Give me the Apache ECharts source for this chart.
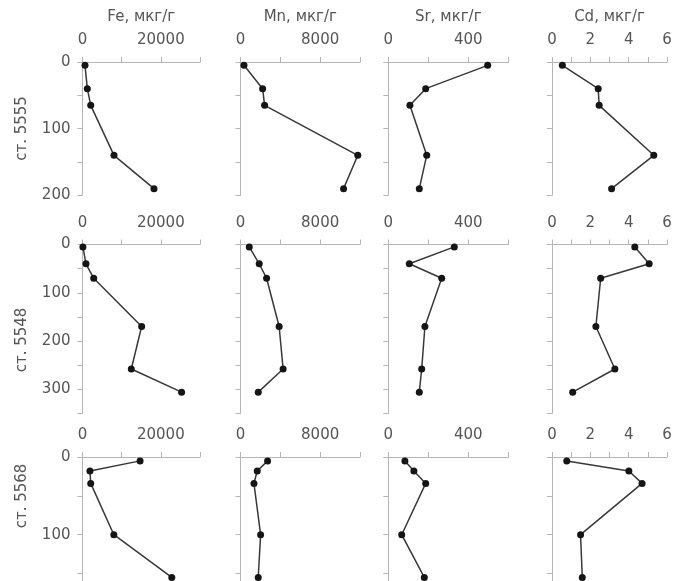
<!DOCTYPE html>
<html><head><meta charset="utf-8">
<script src="https://cdn.jsdelivr.net/npm/echarts@6/dist/echarts.min.js"></script>
<style>html,body{margin:0;padding:0;background:#fff}#c{width:675px;height:581px}</style>
</head><body><div id="c"></div>
<script>
// ---- data ----
const stations = ['ст. 5555', 'ст. 5548', 'ст. 5568'];
const elements = ['Fe, мкг/г', 'Mn, мкг/г', 'Sr, мкг/г', 'Cd, мкг/г'];
const xMax = [30000, 12000, 600, 6];
const xInterval = [10000, 4000, 200, 1];
const depthMax = [200, 350, 200];
const depthInterval = 50;

const depth5555 = [5, 40, 65, 140, 190];
const fe5555 = [640, 1230, 2100, 8040, 18250];
const mn5555 = [350, 2220, 2420, 11780, 10350];
const sr5555 = [497, 187, 108, 192, 155];
const cd5555 = [0.54, 2.41, 2.46, 5.31, 3.11];

const depth5548 = [5, 40, 70, 170, 258, 306];
const fe5548 = [100, 890, 2860, 15100, 12460, 25300];
const mn5548 = [880, 1880, 2620, 3880, 4280, 1780];
const sr5548 = [330, 105, 267, 183, 167, 155];
const cd5548 = [4.32, 5.07, 2.54, 2.29, 3.28, 1.08];

const depth5568 = [5, 18, 34, 100, 155];
const fe5568 = [14700, 1900, 2100, 8000, 22800];
const mn5568 = [2720, 1680, 1350, 2020, 1780];
const sr5568 = [83, 128, 187, 67, 180];
const cd5568 = [0.77, 4.01, 4.70, 1.49, 1.58];

const depths = [depth5555, depth5548, depth5568];
const values = [
  [fe5555, mn5555, sr5555, cd5555],
  [fe5548, mn5548, sr5548, cd5548],
  [fe5568, mn5568, sr5568, cd5568]
];

// ---- layout ----
const colLeft = [82.5, 240.5, 388.3, 552];
const colWidth = [117.5, 119.5, 120, 115];
const rowTop = [62, 244.5, 457];
const rowPx = [0.6665, 0.4825, 0.777];
const stationY = [128.5, 340, 496];

const FONT = 'DejaVu Sans';
const TXT = '#555';
const AX = '#b5b5b5';

const grid = [], xAxis = [], yAxis = [], series = [];
for (let r = 0; r < 3; r++) {
  for (let c = 0; c < 4; c++) {
    const i = r * 4 + c;
    grid.push({left: colLeft[c], top: rowTop[r], width: colWidth[c], height: depthMax[r] * rowPx[r],
      containLabel: false, outerBoundsMode: 'none'});
    const xi = xInterval[c];
    xAxis.push({
      type: 'value', gridIndex: i, position: 'top', min: 0, max: xMax[c], interval: xi,
      name: r === 0 ? elements[c] : '', nameLocation: 'middle', nameGap: 37,
      nameTextStyle: {fontFamily: FONT, fontSize: 15, color: TXT},
      axisLine: {show: true, lineStyle: {color: AX, width: 1}},
      axisTick: {show: true, inside: false, length: 5, lineStyle: {color: AX}},
      splitLine: {show: false},
      axisLabel: {
        margin: 14, fontFamily: FONT, fontSize: 15, color: TXT,
        formatter: v => (Math.round(v / xi) % 2 === 0 ? String(v) : '')
      }
    });
    yAxis.push({
      type: 'value', gridIndex: i, inverse: true, min: 0, max: depthMax[r], interval: depthInterval,
      axisLine: {show: true, lineStyle: {color: AX, width: 1}},
      axisTick: {show: true, inside: false, length: 5, lineStyle: {color: AX}},
      splitLine: {show: false},
      axisLabel: {
        show: c === 0, margin: 12, fontFamily: FONT, fontSize: 15, color: TXT,
        formatter: v => (v % 100 === 0 ? String(v) : '')
      }
    });
    const vals = values[r][c];
    series.push({
      type: 'line', xAxisIndex: i, yAxisIndex: i, clip: false,
      data: vals.map((v, k) => [v, depths[r][k]]),
      symbol: 'circle', symbolSize: 7, showSymbol: true,
      lineStyle: {color: '#383838', width: 1.5},
      itemStyle: {color: '#151515'},
      emphasis: {disabled: true}
    });
  }
}

const graphic = stations.map((s, r) => ({
  type: 'text', x: 22, y: stationY[r], rotation: Math.PI / 2,
  style: {text: s, fontFamily: FONT, fontSize: 15, fill: TXT, align: 'center', verticalAlign: 'middle'}
}));

const chart = echarts.init(document.getElementById('c'), null, {renderer: 'canvas'});
chart.setOption({animation: false, backgroundColor: '#fff', grid, xAxis, yAxis, series, graphic});
</script>
</body></html>
